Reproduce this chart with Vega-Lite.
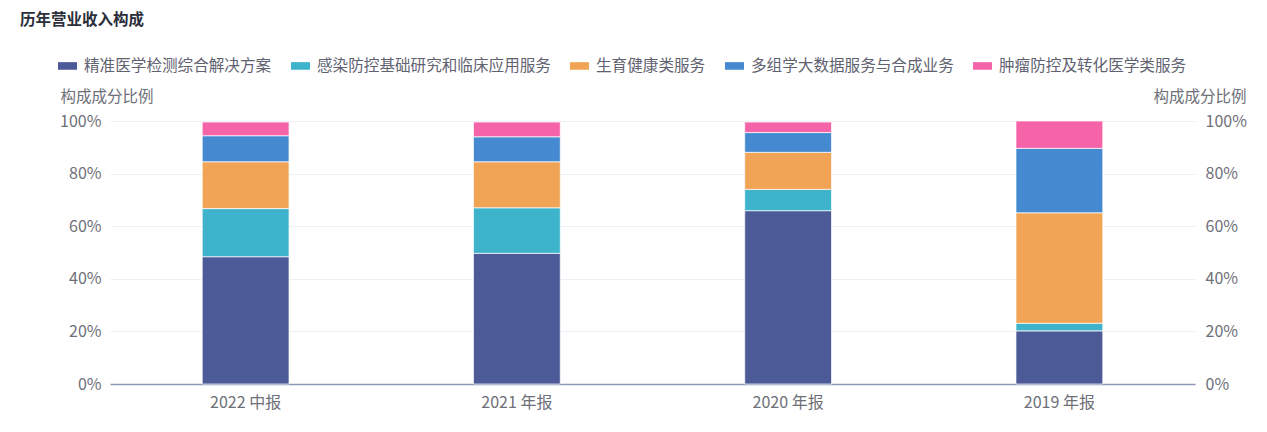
{
  "$schema": "https://vega.github.io/schema/vega-lite/v6.json",
  "width": 1085,
  "height": 263,
  "autosize": {"type": "none"},
  "padding": {"left": 110, "top": 121, "right": 72, "bottom": 48},
  "background": "white",
  "config": {"font": "Noto Sans CJK SC", "view": {"stroke": null}},
  "title": {"text": "历年营业收入构成", "anchor": "start", "frame": "group", "dx": -90, "offset": 28, "fontSize": 15.5, "fontWeight": "bold", "color": "#2b2e3a"},
  "data": {"values": [
    {"报告期": "2022 中报", "业务": "精准医学检测综合解决方案", "序": 1, "占比": 0.484},
    {"报告期": "2022 中报", "业务": "感染防控基础研究和临床应用服务", "序": 2, "占比": 0.183},
    {"报告期": "2022 中报", "业务": "生育健康类服务", "序": 3, "占比": 0.178},
    {"报告期": "2022 中报", "业务": "多组学大数据服务与合成业务", "序": 4, "占比": 0.099},
    {"报告期": "2022 中报", "业务": "肿瘤防控及转化医学类服务", "序": 5, "占比": 0.052},
    {"报告期": "2021 年报", "业务": "精准医学检测综合解决方案", "序": 1, "占比": 0.497},
    {"报告期": "2021 年报", "业务": "感染防控基础研究和临床应用服务", "序": 2, "占比": 0.173},
    {"报告期": "2021 年报", "业务": "生育健康类服务", "序": 3, "占比": 0.175},
    {"报告期": "2021 年报", "业务": "多组学大数据服务与合成业务", "序": 4, "占比": 0.095},
    {"报告期": "2021 年报", "业务": "肿瘤防控及转化医学类服务", "序": 5, "占比": 0.056},
    {"报告期": "2020 年报", "业务": "精准医学检测综合解决方案", "序": 1, "占比": 0.659},
    {"报告期": "2020 年报", "业务": "感染防控基础研究和临床应用服务", "序": 2, "占比": 0.081},
    {"报告期": "2020 年报", "业务": "生育健康类服务", "序": 3, "占比": 0.141},
    {"报告期": "2020 年报", "业务": "多组学大数据服务与合成业务", "序": 4, "占比": 0.075},
    {"报告期": "2020 年报", "业务": "肿瘤防控及转化医学类服务", "序": 5, "占比": 0.040},
    {"报告期": "2019 年报", "业务": "精准医学检测综合解决方案", "序": 1, "占比": 0.202},
    {"报告期": "2019 年报", "业务": "感染防控基础研究和临床应用服务", "序": 2, "占比": 0.029},
    {"报告期": "2019 年报", "业务": "生育健康类服务", "序": 3, "占比": 0.420},
    {"报告期": "2019 年报", "业务": "多组学大数据服务与合成业务", "序": 4, "占比": 0.245},
    {"报告期": "2019 年报", "业务": "肿瘤防控及转化医学类服务", "序": 5, "占比": 0.104}
  ]},
  "layer": [
    {
      "mark": {"type": "bar", "stroke": "#ffffff", "strokeWidth": 1, "strokeOpacity": 0.7},
      "encoding": {
        "x": {"field": "报告期", "type": "nominal", "sort": ["2022 中报", "2021 年报", "2020 年报", "2019 年报"],
              "scale": {"paddingInner": 0.68, "paddingOuter": 0.34},
              "axis": {"title": null, "labelAngle": 0, "labelFontSize": 16, "labelColor": "#6e7079", "labelPadding": 10, "ticks": false, "domainColor": "#8f97b6", "domainWidth": 1.5, "grid": false}},
        "y": {"field": "占比", "type": "quantitative", "stack": "zero", "scale": {"domain": [0, 1]},
              "axis": {"title": "构成成分比例", "format": ".0%", "values": [0, 0.2, 0.4, 0.6, 0.8, 1], "orient": "left", "domain": false, "ticks": false,
                       "labelFontSize": 16, "labelColor": "#6e7079", "labelPadding": 9, "gridColor": "#eef0f7",
                       "titleAngle": 0, "titleX": -50, "titleY": -25, "titleAlign": "left", "titleBaseline": "middle", "titleFontSize": 15.5, "titleFontWeight": "normal", "titleColor": "#6e7079"}},
        "order": {"field": "序", "type": "quantitative", "sort": "ascending"},
        "color": {"field": "业务", "type": "nominal",
                  "sort": ["精准医学检测综合解决方案", "感染防控基础研究和临床应用服务", "生育健康类服务", "多组学大数据服务与合成业务", "肿瘤防控及转化医学类服务"],
                  "scale": {"domain": ["精准医学检测综合解决方案", "感染防控基础研究和临床应用服务", "生育健康类服务", "多组学大数据服务与合成业务", "肿瘤防控及转化医学类服务"],
                            "range": ["#4d5a98", "#3db3cc", "#f1a356", "#458ad0", "#f563a8"]},
                  "legend": {"orient": "none", "legendX": -52, "legendY": -65, "direction": "horizontal", "title": null,
                             "symbolType": "M-1,-0.4L1,-0.4L1,0.4L-1,0.4Z", "symbolSize": 361, "symbolStrokeWidth": 0,
                             "labelFontSize": 15.6, "labelColor": "#5f6270", "columnPadding": 19, "labelOffset": 7, "labelLimit": 300}}
      }
    },
    {
      "mark": {"type": "bar", "opacity": 0},
      "encoding": {
        "x": {"field": "报告期", "type": "nominal", "sort": ["2022 中报", "2021 年报", "2020 年报", "2019 年报"]},
        "y": {"field": "占比", "type": "quantitative", "scale": {"domain": [0, 1]},
              "axis": {"title": "构成成分比例", "format": ".0%", "values": [0, 0.2, 0.4, 0.6, 0.8, 1], "orient": "right", "domain": false, "ticks": false, "grid": false,
                       "labelFontSize": 16, "labelColor": "#6e7079", "labelPadding": 10,
                       "titleAngle": 0, "titleX": 51, "titleY": -25, "titleAlign": "right", "titleBaseline": "middle", "titleFontSize": 15.5, "titleFontWeight": "normal", "titleColor": "#6e7079"}}
      }
    }
  ],
  "resolve": {"axis": {"y": "independent"}}
}
